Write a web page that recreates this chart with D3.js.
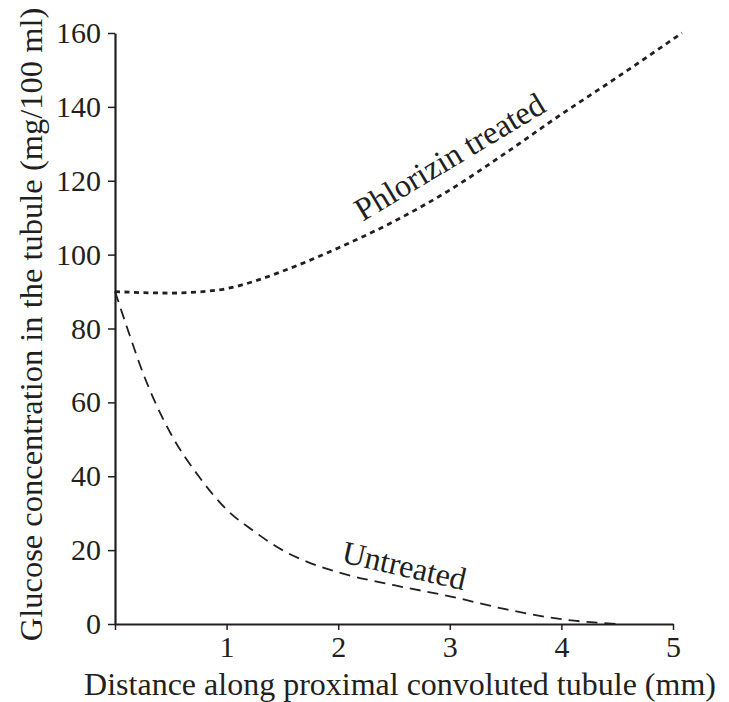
<!DOCTYPE html>
<html>
<head>
<meta charset="utf-8">
<script src="https://cdn.jsdelivr.net/npm/d3@7"></script>
<style>
    body { margin: 0; background: #fff; }
    svg text { font-family: "Liberation Serif", "Times New Roman", serif; fill: #231f20; }
    .axis path, .axis line { stroke: #231f20; }
</style>
</head>
<body>
<div id="chart"></div>
<script>
// Data
const phlorizinX = [0, 0.25, 0.5, 0.75, 1.0, 1.25, 1.5, 1.75, 2.0, 2.5, 3.0, 3.5, 4.0, 4.5, 5.08];
const phlorizinY = [90, 89.7, 89.6, 89.9, 90.8, 92.8, 95.5, 98.5, 101.8, 109, 117.5, 127.5, 138, 148, 160];
const untreatedX = [0, 0.1, 0.25, 0.5, 0.75, 1.0, 1.25, 1.5, 1.75, 2.0, 2.5, 3.0, 3.5, 4.0, 4.5];
const untreatedY = [90, 81, 68, 51.5, 40, 31, 25, 20, 16.5, 14, 10.5, 7.5, 4, 1.3, 0];
const xTicks = [0, 1, 2, 3, 4, 5];
const yTicks = [0, 20, 40, 60, 80, 100, 120, 140, 160];

const width = 729, height = 702;
const margin = { top: 33, right: 56, bottom: 78, left: 115 };

const svg = d3.select('#chart')
    .append('svg')
    .attr('width', width)
    .attr('height', height);

const x = d3.scaleLinear().domain([0, 5]).range([margin.left, width - margin.right]);
const y = d3.scaleLinear().domain([0, 160]).range([height - margin.bottom, margin.top]);

// Axes
svg.append('g')
    .attr('class', 'axis')
    .attr('transform', `translate(0,${y(0)})`)
    .call(d3.axisBottom(x)
        .tickValues(xTicks)
        .tickFormat(d => d === 0 ? '' : d)
        .tickSize(6)
        .tickSizeOuter(0)
        .tickPadding(6));

svg.append('g')
    .attr('class', 'axis')
    .attr('transform', `translate(${x(0)},0)`)
    .call(d3.axisLeft(y)
        .tickValues(yTicks)
        .tickSize(7)
        .tickSizeOuter(0)
        .tickPadding(7));

svg.selectAll('.axis path').attr('stroke-width', 2.2);
svg.selectAll('.axis line').attr('stroke-width', 1.5);
svg.selectAll('.axis text').attr('font-size', 30).attr('fill', '#231f20');

// Curves
const line = d3.line()
    .x(d => x(d[0]))
    .y(d => y(d[1]))
    .curve(d3.curveMonotoneX);

svg.append('path')
    .datum(d3.zip(phlorizinX, phlorizinY))
    .attr('d', line)
    .attr('fill', 'none')
    .attr('stroke', '#231f20')
    .attr('stroke-width', 2.8)
    .attr('stroke-dasharray', '5,4.5');

svg.append('path')
    .datum(d3.zip(untreatedX, untreatedY))
    .attr('d', line)
    .attr('fill', 'none')
    .attr('stroke', '#231f20')
    .attr('stroke-width', 1.8)
    .attr('stroke-dasharray', '11,7');

// Curve labels
svg.append('text')
    .attr('transform', `translate(${x(2.22)},${y(108.9)}) rotate(-31)`)
    .attr('font-size', 32.5)
    .text('Phlorizin treated');

svg.append('text')
    .attr('transform', `translate(${x(2.02)},${y(16.8)}) rotate(13)`)
    .attr('font-size', 32)
    .text('Untreated');

// Axis titles
svg.append('text')
    .attr('x', 400)
    .attr('y', 695)
    .attr('text-anchor', 'middle')
    .attr('font-size', 32)
    .text('Distance along proximal convoluted tubule (mm)');

svg.append('text')
    .attr('transform', `translate(42,${(y(0) + y(160)) / 2 - 4}) rotate(-90)`)
    .attr('text-anchor', 'middle')
    .attr('font-size', 32.5)
    .text('Glucose concentration in the tubule (mg/100 ml)');
</script>
</body>
</html>
